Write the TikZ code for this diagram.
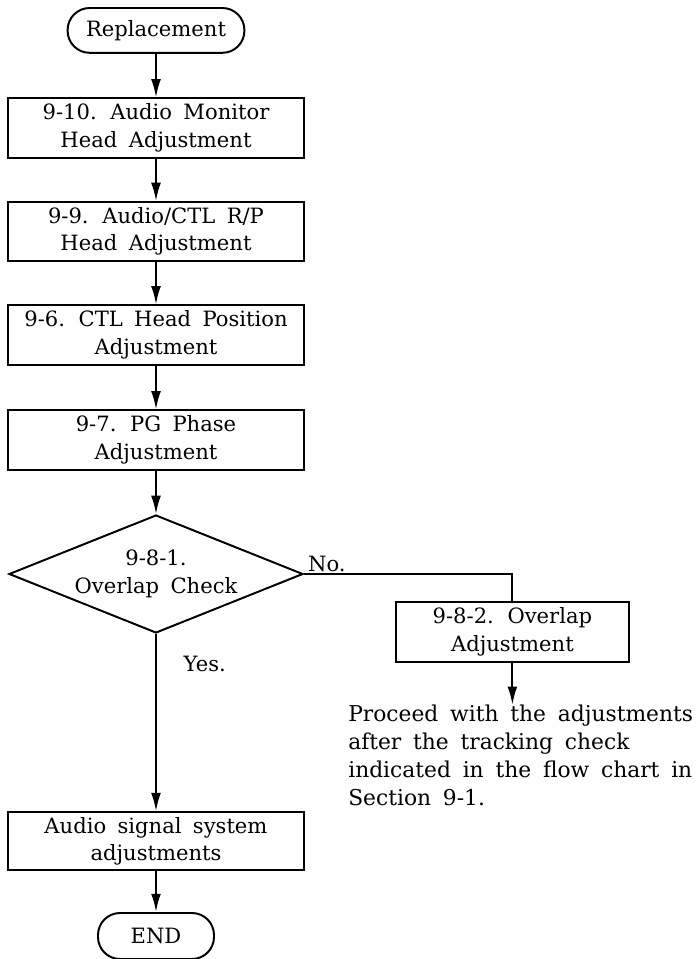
\documentclass[tikz,border=0pt]{standalone}
\usepackage{fontspec}
\setmainfont{DejaVu Serif}[WordSpace=1.7]
\usepackage{tikz}
\usetikzlibrary{arrows.meta,positioning,shapes.geometric}

\begin{document}
\begin{tikzpicture}[
    font=\fontsize{15}{19.5}\selectfont,
    procbox/.style={draw,line width=1.4pt,minimum width=7.4cm,
      minimum height=1.48cm,align=center,inner sep=2pt},
    termbox/.style={draw,line width=1.4pt,rounded corners=0.55cm,
      minimum height=1.12cm,inner sep=2pt},
    checkbox/.style={draw,diamond,aspect=2.5,line width=1.4pt,
      minimum width=7.35cm,minimum height=2.95cm,align=center,inner sep=0pt},
    flow/.style={line width=1.4pt,-{Latex[length=13pt,width=7pt]}}]

  \useasboundingbox (0,0) rectangle (17.5,-23.975);

  % Main column
  \node[termbox,minimum width=4.42cm] (repl) at (3.9,-0.76) {Replacement};
  \node[procbox] (audmon) at (3.9,-3.2) {9-10. Audio Monitor\\Head Adjustment};
  \node[procbox] (audctl) at (3.9,-5.79) {9-9. Audio/CTL R/P\\Head Adjustment};
  \node[procbox] (ctlpos) at (3.9,-8.375) {9-6. CTL Head Position\\Adjustment};
  \node[procbox] (pgphase) at (3.9,-11.0) {9-7. PG Phase\\Adjustment};
  \node[checkbox] (overlap) at (3.9,-14.35) {9-8-1.\\Overlap Check};
  \node[procbox,minimum height=1.45cm] (audsig) at (3.9,-21.03)
    {Audio signal system\\adjustments};
  \node[termbox,minimum width=2.9cm,minimum height=1.15cm] (fin) at (3.9,-23.4) {END};

  % Side branch
  \node[procbox,minimum width=5.82cm,minimum height=1.5cm] (ovadj) at (12.81,-15.8)
    {9-8-2. Overlap\\Adjustment};
  \node[anchor=north west,align=left,inner sep=0pt,
        font=\fontsize{15.5}{20}\selectfont] (note) at (8.7,-17.62)
    {Proceed with the adjustments\\after the tracking check\\indicated in the flow chart in\\Section 9-1.};

  % Connectors
  \draw[flow] (repl) -- (audmon);
  \draw[flow] (audmon) -- (audctl);
  \draw[flow] (audctl) -- (ctlpos);
  \draw[flow] (ctlpos) -- (pgphase);
  \draw[flow] (pgphase) -- (overlap);
  \draw[flow] (overlap) -- node[pos=0.17,right=0.55cm] {Yes.} (audsig);
  \draw[flow] (audsig) -- (fin);
  \draw[line width=1.4pt] (overlap.east)
    -- node[pos=0.11,above,inner sep=1pt] {No.} (overlap.east -| ovadj)
    -- (ovadj.north);
  \draw[flow] (ovadj) -- (ovadj.south |- note.north);
\end{tikzpicture}
\end{document}
